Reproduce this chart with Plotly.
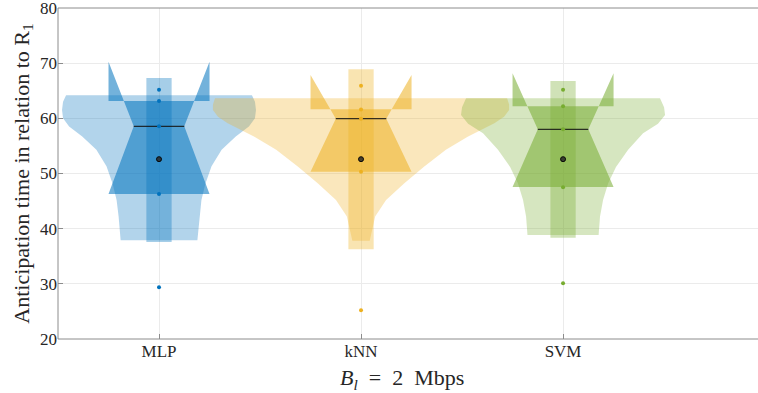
import plotly.graph_objects as go

# Classifiers and their positions on the x axis
categories = ["MLP", "kNN", "SVM"]
positions = [1, 2, 3]
colors = ["#0072BD", "#EDB120", "#77AC30"]

# Kernel-density outlines: value level and half-width (x units) at that level
mlp_level = [37.9, 42.2, 45.2, 48.2, 51.3, 54.3, 56.7, 58.5, 60.0, 61.5, 63.0, 64.2]
mlp_halfwidth = [0.19, 0.20, 0.21, 0.23, 0.26, 0.31, 0.38, 0.445, 0.475, 0.48, 0.475, 0.46]

knn_level = [37.8, 39.5, 42.2, 45.2, 48.2, 51.2, 54.3, 56.7, 57.9, 59.1, 60.3, 61.5, 62.5, 63.63]
knn_halfwidth = [0.043, 0.052, 0.07, 0.124, 0.213, 0.31, 0.42, 0.53, 0.594, 0.66, 0.708, 0.733, 0.733, 0.723]

svm_level = [38.85, 42.2, 45.2, 48.2, 51.2, 54.3, 57.3, 59.0, 60.6, 62.0, 63.63]
svm_halfwidth = [0.176, 0.183, 0.198, 0.223, 0.262, 0.322, 0.396, 0.47, 0.505, 0.50, 0.48]

violin_levels = [mlp_level, knn_level, svm_level]
violin_widths = [mlp_halfwidth, knn_halfwidth, svm_halfwidth]

# Notched box statistics
q1 = [46.3, 50.33, 47.55]
median = [58.55, 59.93, 58.0]
q3 = [63.14, 61.63, 62.2]
notch_hi = [70.26, 67.85, 68.15]

# Narrow central bar (lower, upper)
bar_lo = [37.6, 36.26, 38.36]
bar_hi = [67.3, 68.9, 66.76]

# Individual marked values and the mean
points = [
    [65.2, 63.14, 58.55, 46.3, 29.4],
    [65.9, 61.6, 59.93, 50.3, 25.2],
    [65.2, 62.2, 58.0, 47.5, 30.1],
]
means = [52.6, 52.6, 52.6]

BOX_W = 0.25
NOTCH_W = 0.125
BAR_W = 0.0625

SERIF = "Liberation Serif, DejaVu Serif, serif"
TEXT_COLOR = "#262626"
AXIS_COLOR = "#8c8c8c"


def rgba(hex_color, alpha):
    h = hex_color.lstrip("#")
    r, g, b = int(h[0:2], 16), int(h[2:4], 16), int(h[4:6], 16)
    return f"rgba({r},{g},{b},{alpha})"


fig = go.Figure()

# Violins
for pos, col, lev, wid in zip(positions, colors, violin_levels, violin_widths):
    xs = [pos + w for w in wid] + [pos - w for w in reversed(wid)]
    ys = list(lev) + list(reversed(lev))
    xs.append(xs[0])
    ys.append(ys[0])
    fig.add_trace(go.Scatter(
        x=xs, y=ys, mode="lines", fill="toself",
        fillcolor=rgba(col, 0.3), line=dict(width=0, color=rgba(col, 0.0)),
        hoverinfo="skip", showlegend=False,
    ))

# Notched boxes (body below q3 plus the notch "ears" above it)
for i, (pos, col) in enumerate(zip(positions, colors)):
    a, m, b, n = q1[i], median[i], q3[i], notch_hi[i]
    frac = (b - m) / (n - m)
    xe = NOTCH_W + frac * (BOX_W - NOTCH_W)
    xs = [pos - BOX_W, pos + BOX_W, pos + NOTCH_W, pos + xe, pos - xe, pos - NOTCH_W, pos - BOX_W, None,
          pos + xe, pos + BOX_W, pos + BOX_W, pos + xe, None,
          pos - xe, pos - BOX_W, pos - BOX_W, pos - xe]
    ys = [a, a, m, b, b, m, a, None,
          b, n, b, b, None,
          b, n, b, b]
    fig.add_trace(go.Scatter(
        x=xs, y=ys, mode="lines", fill="toself",
        fillcolor=rgba(col, 0.55), line=dict(width=0, color=rgba(col, 0.0)),
        hoverinfo="skip", showlegend=False,
    ))

# Narrow central bars
for i, (pos, col) in enumerate(zip(positions, colors)):
    xs = [pos - BAR_W, pos + BAR_W, pos + BAR_W, pos - BAR_W, pos - BAR_W]
    ys = [bar_lo[i], bar_lo[i], bar_hi[i], bar_hi[i], bar_lo[i]]
    fig.add_trace(go.Scatter(
        x=xs, y=ys, mode="lines", fill="toself",
        fillcolor=rgba(col, 0.35), line=dict(width=0, color=rgba(col, 0.0)),
        hoverinfo="skip", showlegend=False,
    ))

# Median lines
for i, pos in enumerate(positions):
    fig.add_trace(go.Scatter(
        x=[pos - NOTCH_W, pos + NOTCH_W], y=[median[i], median[i]],
        mode="lines", line=dict(color="rgba(20,20,20,0.85)", width=1.3),
        hoverinfo="skip", showlegend=False,
    ))

# Data points
for i, (pos, col) in enumerate(zip(positions, colors)):
    fig.add_trace(go.Scatter(
        x=[pos] * len(points[i]), y=points[i], mode="markers",
        marker=dict(color=col, size=4),
        hoverinfo="skip", showlegend=False,
    ))

# Means
fig.add_trace(go.Scatter(
    x=positions, y=means, mode="markers",
    marker=dict(color="rgba(40,40,40,0.85)", size=5, line=dict(color="rgba(0,0,0,0.9)", width=1)),
    hoverinfo="skip", showlegend=False,
))

tick_font = dict(family=SERIF, size=17, color=TEXT_COLOR)
title_font = dict(family=SERIF, size=22, color=TEXT_COLOR)
NB = "\u00a0"

# Open-ended frame: left, bottom and top edges only
frame = [
    dict(type="line", xref="paper", yref="paper", x0=0, x1=0, y0=0, y1=1),
    dict(type="line", xref="paper", yref="paper", x0=0, x1=1.02, y0=0, y1=0),
    dict(type="line", xref="paper", yref="paper", x0=0, x1=1.02, y0=1, y1=1),
]
for s in frame:
    s["line"] = dict(color=AXIS_COLOR, width=1)
    s["layer"] = "above"

fig.update_layout(
    width=758, height=393,
    margin=dict(l=58, r=0, t=8, b=54, autoexpand=False),
    paper_bgcolor="white", plot_bgcolor="white",
    font=tick_font,
    shapes=frame,
    dragmode=False,
    xaxis=dict(
        range=[0.5, 3.965], tickmode="array", tickvals=positions, ticktext=categories,
        showgrid=True, gridcolor="#ebebeb", gridwidth=1, zeroline=False,
        showline=False, mirror=False, automargin=False,
        ticks="inside", ticklen=5, tickcolor=AXIS_COLOR,
        tickfont=tick_font,
    ),
    yaxis=dict(
        range=[20, 80], tickmode="array", tickvals=[20, 30, 40, 50, 60, 70, 80],
        showgrid=True, gridcolor="#ebebeb", gridwidth=1, zeroline=False,
        showline=False, mirror=False, automargin=False,
        ticks="inside", ticklen=5, tickcolor=AXIS_COLOR,
        tickfont=tick_font, ticklabeloverflow="allow",
        title=dict(text="Anticipation time in relation to R<sub>1</sub>",
                   font=title_font, standoff=4),
    ),
    annotations=[dict(
        text=f"<i>B</i><sub><i>l</i></sub>{NB}{NB}={NB}{NB}2{NB}{NB}Mbps",
        xref="paper", yref="paper", x=0.491, y=0, yshift=-40,
        xanchor="center", yanchor="middle", showarrow=False, font=title_font,
    )],
)

fig.write_html("out.html", config={"staticPlot": True})
